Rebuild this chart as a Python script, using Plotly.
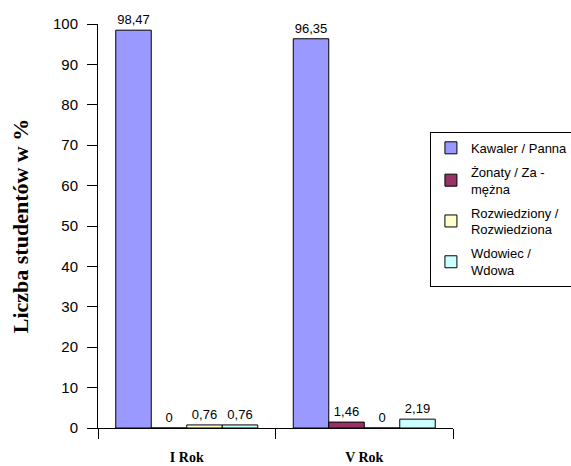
import plotly.graph_objects as go

categories = ["I Rok", "V Rok"]
series_names = ["Kawaler / Panna", "Żonaty / Za -<br>mężna", "Rozwiedziony /<br>Rozwiedziona", "Wdowiec /<br>Wdowa"]
kawaler = [98.47, 96.35]
zonaty = [0, 1.46]
rozwiedziony = [0.76, 0]
wdowiec = [0.76, 2.19]
colors = ["#9999FF", "#993366", "#FFFFCC", "#CCFFFF"]
y_ticks = [0, 10, 20, 30, 40, 50, 60, 70, 80, 90, 100]


def fmt(v):
    if v == 0:
        return "0"
    return ("%.2f" % v).replace(".", ",")


fig = go.Figure()
for name, vals, col in zip(series_names, [kawaler, zonaty, rozwiedziony, wdowiec], colors):
    fig.add_trace(go.Bar(
        x=categories, y=vals, name=name, legendgroup=name,
        marker=dict(color=col, line=dict(color="#000000", width=1)),
        text=[fmt(v) for v in vals], textposition="outside",
        textfont=dict(family="Liberation Sans, Arial", size=13, color="#000000"),
        cliponaxis=False,
    ))

fig.update_layout(
    width=571, height=466,
    margin=dict(l=98, r=118, t=24, b=38, autoexpand=False),
    paper_bgcolor="white", plot_bgcolor="white",
    barmode="group", bargap=0.2, bargroupgap=0,
    font=dict(family="Liberation Sans, Arial", color="#000000"),
    showlegend=True,
    legend=dict(
        x=0.935, y=0.733, xanchor="left", yanchor="top",
        bgcolor="white", bordercolor="#000000", borderwidth=1,
        font=dict(family="Liberation Sans, Arial", size=13, color="#000000"),
        tracegroupgap=4, itemwidth=30,
    ),
)
fig.update_xaxes(
    type="category", tickson="boundaries", ticks="outside", ticklen=10,
    tickcolor="#000000", showline=True, linecolor="#000000", linewidth=1,
    tickfont=dict(family="Liberation Serif, Times New Roman", size=14, color="#000000",
                  weight="bold"),
    ticklabelstandoff=16, automargin=False,
    showgrid=False,
)
fig.update_yaxes(
    range=[0, 100], tickvals=y_ticks, ticks="outside", ticklen=10,
    tickcolor="#000000", showline=True, linecolor="#000000", linewidth=1,
    tickfont=dict(family="Liberation Sans, Arial", size=15, color="#000000"),
    ticklabelstandoff=6,
    showgrid=False, zeroline=False, automargin=False,
    title=dict(text="<b>Liczba studentów w %</b>",
               font=dict(family="Liberation Serif, Times New Roman", size=22, color="#000000"),
               standoff=18),
)
fig.write_html("out.html", config={"displayModeBar": False},
               post_script="document.body.style.margin='0';")
